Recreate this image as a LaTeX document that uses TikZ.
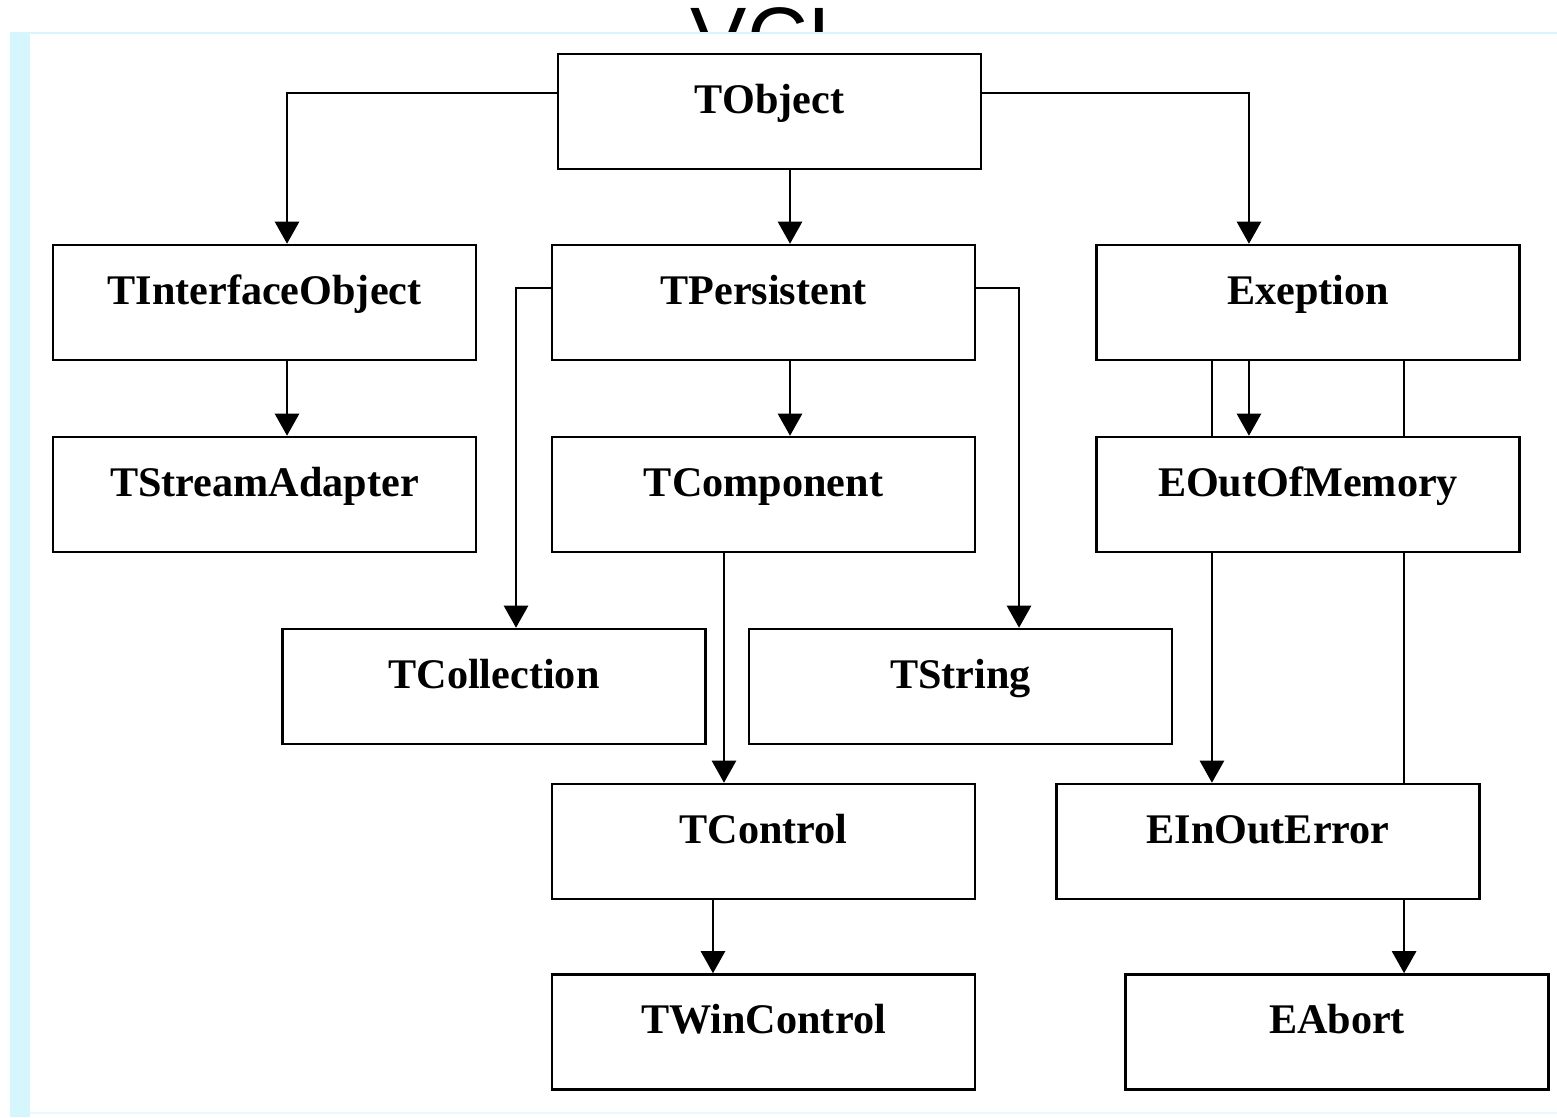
\documentclass[tikz,border=0pt]{standalone}
\usepackage{fontspec}
\setmainfont{Liberation Serif}
\setsansfont{Liberation Sans}
\usetikzlibrary{arrows.meta}
\definecolor{panelblue}{RGB}{214,246,253}

\begin{document}
\begin{tikzpicture}[x=0.01cm,y=-0.01cm,
		cls/.style={draw, line width=0.7pt, minimum width=4.23cm, minimum height=1.15cm, inner xsep=0pt, inner ysep=0pt, text height=0.59cm, text depth=0.56cm, font=\fontsize{12}{14}\selectfont\bfseries},
		conn/.style={line width=0.7pt, -{Triangle[width=0.24cm,length=0.22cm]}},
		link/.style={line width=0.7pt}]
		\useasboundingbox (0,0) rectangle (1557,1117);
		\node[font=\sffamily\fontsize{24}{26}\selectfont, anchor=base] (title) at (773,66) {VCL};
		% panel
		\fill[white] (10,33) rectangle (1557,1117);
		\fill[panelblue] (10,33) rectangle (30,1117);
		\draw[panelblue, line width=0.8pt] (10,33) -- (1557,33);
		\draw[panelblue!60, line width=0.8pt] (30,1113) -- (1557,1113);
		% classes
		\node[cls] (tobject) at (769.5,111.5) {TObject};
		\node[cls] (tinterface) at (264.5,302.5) {TInterfaceObject};
		\node[cls] (tpersistent) at (763.5,302.5) {TPersistent};
		\node[cls] (exeption) at (1308,302.5) {Exeption};
		\node[cls] (tstream) at (264.5,494.5) {TStreamAdapter};
		\node[cls] (tcomponent) at (763.5,494.5) {TComponent};
		\node[cls] (eoutofmemory) at (1308,494.5) {EOutOfMemory};
		\node[cls] (tcollection) at (494,686.5) {TCollection};
		\node[cls] (tstring) at (960.5,686.5) {TString};
		\node[cls] (tcontrol) at (763.5,841.5) {TControl};
		\node[cls] (einout) at (1268,841.5) {EInOutError};
		\node[cls] (twincontrol) at (763.5,1032) {TWinControl};
		\node[cls] (eabort) at (1337,1032) {EAbort};
		% inheritance
		\draw[conn] ([yshift=1.85mm]tobject.west) -| ([xshift=2.25mm]tinterface.north);
		\draw[conn] ([xshift=2.05mm]tobject.south) -- ([xshift=2.05mm]tobject.south |- tpersistent.north);
		\draw[conn] ([yshift=1.85mm]tobject.east) -| ([xshift=-5.9mm]exeption.north);
		\draw[conn] ([xshift=2.25mm]tinterface.south) -- ([xshift=2.25mm]tstream.north);
		\draw[conn] ([yshift=1.45mm]tpersistent.west) -| ([xshift=2.2mm]tcollection.north);
		\draw[conn] ([yshift=1.45mm]tpersistent.east) -| ([xshift=5.85mm]tstring.north);
		\draw[conn] ([xshift=2.65mm]tpersistent.south) -- ([xshift=2.65mm]tcomponent.north);
		\draw[conn] ([xshift=-3.95mm]tcomponent.south) -- ([xshift=-3.95mm]tcomponent.south |- tcontrol.north);
		\draw[conn] ([xshift=-5.05mm]tcontrol.south) -- ([xshift=-5.05mm]tcontrol.south |- twincontrol.north);
		\draw[conn] ([xshift=-5.9mm]exeption.south) -- ([xshift=-5.9mm]eoutofmemory.north);
		\draw[link] ([xshift=-9.6mm]exeption.south) -- ([xshift=-9.6mm]eoutofmemory.north);
		\draw[conn] ([xshift=-9.6mm]eoutofmemory.south) -- ([xshift=-9.6mm]eoutofmemory.south |- einout.north);
		\draw[link] ([xshift=9.6mm]exeption.south) -- ([xshift=9.6mm]eoutofmemory.north);
		\draw[link] ([xshift=9.6mm]eoutofmemory.south) -- ([xshift=9.6mm]eoutofmemory.south |- einout.north);
		\draw[conn] ([xshift=13.6mm]einout.south) -- ([xshift=13.6mm]einout.south |- eabort.north);
	\end{tikzpicture}
\end{document}
